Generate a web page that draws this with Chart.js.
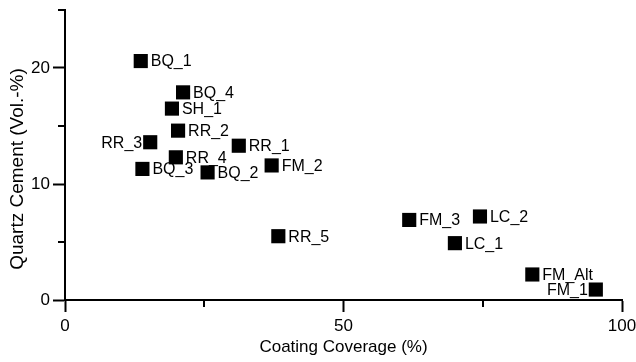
<!DOCTYPE html>
<html>
<head>
<meta charset="utf-8">
<script src="https://cdn.jsdelivr.net/npm/chart.js@4/dist/chart.umd.min.js"></script>
<style>
  html, body { margin: 0; padding: 0; background: #fff; }
</style>
</head>
<body>
<canvas id="c" width="636" height="362"></canvas>
<script>
/* scatter: quartz cement vs. coating coverage, labelled samples */
var SAMPLES  = ['BQ_1', 'BQ_4', 'SH_1', 'RR_2', 'RR_3', 'RR_1', 'RR_4', 'BQ_3', 'BQ_2', 'FM_2', 'RR_5', 'FM_3', 'LC_2', 'LC_1', 'FM_Alt', 'FM_1'];
var COVERAGE = [13.6, 21.2, 19.2, 20.3, 15.3, 31.2, 19.9, 13.9, 25.6, 37.1, 38.3, 61.8, 74.5, 70.0, 83.9, 95.3];
var CEMENT   = [20.6, 17.9, 16.5, 14.6, 13.6, 13.3, 12.3, 11.3, 11.0, 11.6, 5.5, 6.9, 7.2, 4.9, 2.2, 0.9];
var LEFT_LABELS = ['RR_3', 'FM_1']; // these sit left of their marker
var X_LABELLED = [0, 50, 100];
var Y_LABELLED = [0, 10, 20];

var FONT = '"Liberation Sans", Arial, sans-serif';

var points = SAMPLES.map(function (s, i) { return { x: COVERAGE[i], y: CEMENT[i] }; });

function isMajor(list, v) { return list.indexOf(v) !== -1; }

// point labels next to each marker
var labelPlugin = {
  id: 'labels',
  afterDatasetsDraw: function (chart) {
    var ctx = chart.ctx;
    var meta = chart.getDatasetMeta(0);
    ctx.save();
    ctx.font = '16px ' + FONT;
    ctx.fillStyle = '#000';
    ctx.textBaseline = 'middle';
    meta.data.forEach(function (el, i) {
      var left = LEFT_LABELS.indexOf(SAMPLES[i]) !== -1;
      ctx.textAlign = left ? 'right' : 'left';
      ctx.fillText(SAMPLES[i], el.x + (left ? -8 : 10), el.y + 1);
    });
    ctx.restore();
  }
};

// short minor ticks + rotated y title
var axisExtras = {
  id: 'axisExtras',
  afterDraw: function (chart) {
    var ctx = chart.ctx, xs = chart.scales.x, ys = chart.scales.y;
    ctx.save();
    ctx.strokeStyle = '#000';
    ctx.lineWidth = 2;
    xs.ticks.forEach(function (t) {
      if (isMajor(X_LABELLED, t.value)) return;
      var px = Math.round(xs.getPixelForValue(t.value));
      ctx.beginPath(); ctx.moveTo(px, xs.top); ctx.lineTo(px, xs.top + 7); ctx.stroke();
    });
    ys.ticks.forEach(function (t) {
      if (isMajor(Y_LABELLED, t.value)) return;
      var py = Math.round(ys.getPixelForValue(t.value));
      ctx.beginPath(); ctx.moveTo(ys.right, py); ctx.lineTo(ys.right - 7, py); ctx.stroke();
    });
    ctx.translate(18, 169);
    ctx.rotate(-Math.PI / 2);
    ctx.font = '19px ' + FONT;
    ctx.fillStyle = '#000';
    ctx.textAlign = 'center';
    ctx.textBaseline = 'middle';
    ctx.fillText('Quartz Cement (Vol.-%)', 0, 0);
    ctx.restore();
  }
};

new Chart(document.getElementById('c').getContext('2d'), {
  type: 'scatter',
  data: {
    datasets: [{
      data: points,
      pointStyle: 'rect',
      pointRadius: 10,
      pointHoverRadius: 10,
      backgroundColor: '#000',
      borderWidth: 0
    }]
  },
  options: {
    responsive: false,
    animation: false,
    events: [],
    layout: { padding: 0 },
    plugins: { legend: { display: false }, tooltip: { enabled: false } },
    scales: {
      x: {
        type: 'linear', min: 0, max: 100,
        afterFit: function (s) { s.height = 62; s.paddingLeft = 0; s.paddingRight = 14; },
        border: { color: '#000', width: 2 },
        grid: {
          drawOnChartArea: false, tickLength: 12, tickWidth: 2,
          tickColor: function (c) { return c.tick && isMajor(X_LABELLED, c.tick.value) ? '#000' : 'rgba(0,0,0,0)'; }
        },
        ticks: {
          stepSize: 25, padding: 4, color: '#000', maxRotation: 0,
          font: { family: FONT, size: 17 },
          callback: function (v) { return isMajor(X_LABELLED, v) ? String(v) : ''; }
        },
        title: {
          display: true, text: 'Coating Coverage (%)', color: '#000',
          font: { family: FONT, size: 17 }, padding: { top: 0, bottom: 4 }
        }
      },
      y: {
        type: 'linear', min: 0, max: 25,
        afterFit: function (s) { s.width = 65; s.paddingTop = 9; s.paddingBottom = 0; },
        border: { color: '#000', width: 2 },
        grid: {
          drawOnChartArea: false, tickLength: 12, tickWidth: 2,
          tickColor: function (c) { return c.tick && isMajor(Y_LABELLED, c.tick.value) ? '#000' : 'rgba(0,0,0,0)'; }
        },
        ticks: {
          stepSize: 5, padding: 3, color: '#000',
          font: { family: FONT, size: 17 },
          callback: function (v) { return isMajor(Y_LABELLED, v) ? String(v) : ''; }
        }
      }
    }
  },
  plugins: [labelPlugin, axisExtras]
});
</script>
</body>
</html>
